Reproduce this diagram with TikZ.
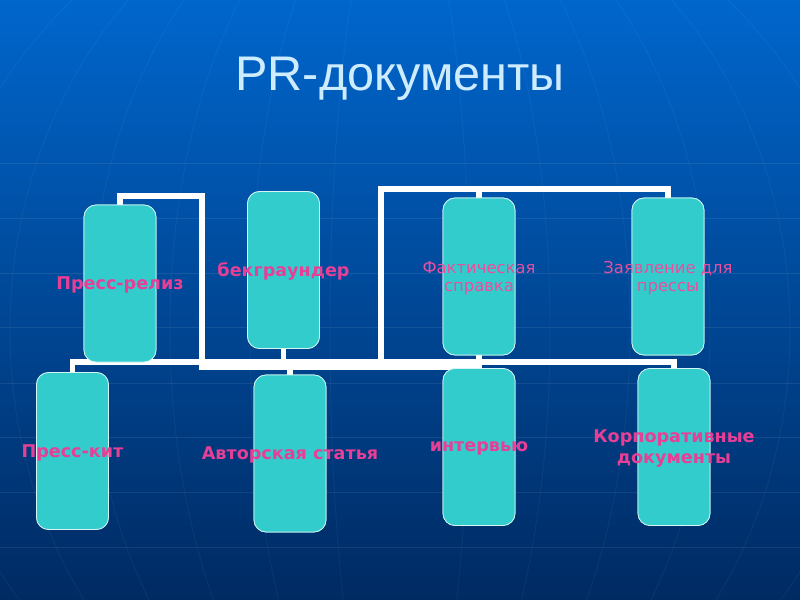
\documentclass[tikz,border=0pt]{standalone}
\usepackage{fontspec}
\setmainfont{DejaVu Sans}
\newfontfamily\titlefont{Liberation Sans}
\definecolor{bgtop}{RGB}{0,102,204}
\definecolor{bgbot}{RGB}{0,42,98}
\definecolor{boxfill}{RGB}{51,204,204}
\definecolor{pinktext}{RGB}{232,62,150}
\definecolor{titlecol}{RGB}{206,236,255}
\begin{document}
\begin{tikzpicture}[x=0.03cm,y=-0.03cm,
  docbox/.style={draw=white!80!boxfill, line width=0.6pt, fill=boxfill,
    rounded corners=0.36cm, minimum width=2.16cm, minimum height=4.71cm, inner sep=0pt},
  lbl/.style={text=pinktext, font=\bfseries\fontsize{15}{18}\selectfont, align=center, inner sep=0pt},
  lbllight/.style={text=pinktext!92!white, font=\fontsize{14}{16}\selectfont, align=center, inner sep=0pt},
  conn/.style={draw=white, line width=0.16cm},
  gridline/.style={draw=white, opacity=0.08, line width=0.8pt},
  meridian/.style={draw=white, opacity=0.045, line width=0.8pt},
  titlestyle/.style={font=\titlefont\fontsize{41.5}{48}\selectfont, inner sep=0pt}]
\useasboundingbox (0,0) rectangle (800,600);
% background
\shade[top color=bgtop, bottom color=bgbot] (0,0) rectangle (800,600);
\begin{scope}
\clip (0,0) rectangle (800,600);
\foreach \yy in {163,218,273,327,383,437,492,547} \draw[gridline] (0,\yy) -- (800,\yy);
\foreach \rr in {70,150,230,310,390,470} \draw[meridian] (400,330) ellipse [x radius=\rr, y radius=460];
\end{scope}
% title
\node[titlestyle, text=titlecol] (title) at (400,79) {PR-документы};
% junction coordinates
\coordinate (jA) at (202,196);
\coordinate (jB) at (202,367.5);
\coordinate (jC) at (381,367.5);
\coordinate (jD) at (381,189);
% boxes (positions)
\node[docbox] (pr) at (120,283.5) {};
\node[docbox] (bg) at (283.5,270) {};
\node[docbox] (fs) at (479,276.5) {};
\node[docbox] (zd) at (668,276.5) {};
\node[docbox] (pk) at (72.5,451) {};
\node[docbox] (as) at (290,453.5) {};
\node[docbox] (iv) at (479,447) {};
\node[docbox] (kd) at (674,447) {};
% connectors
\draw[conn] (pr.north) |- (jA) -- (jB) -| (as.north);
\draw[conn] (jB) -| (iv.north);
\draw[conn] (pk.north) -- ++(0,-10) coordinate (jE) -| (kd.north);
\draw[conn] (bg.south) -- (bg.south |- jE);
\draw[conn] (fs.south) -- (iv.north);
\draw[conn] (jC) -- (jD) -| (zd.north);
\draw[conn] (fs.north) -- (fs.north |- jD);
% boxes again on top of the connectors
\node[docbox] (pr2) at (pr) {};
\node[docbox] (bg2) at (bg) {};
\node[docbox] (fs2) at (fs) {};
\node[docbox] (zd2) at (zd) {};
\node[docbox] (pk2) at (pk) {};
\node[docbox] (as2) at (as) {};
\node[docbox] (iv2) at (iv) {};
\node[docbox] (kd2) at (kd) {};
% labels
\node[lbl] (prl) at ([yshift=-0.05cm]pr) {Пресс-релиз};
\node[lbl] (bgl) at ([yshift=-0.05cm]bg) {бекграундер};
\node[lbllight] (fsl) at ([yshift=-0.05cm]fs) {Фактическая\\справка};
\node[lbllight] (zdl) at ([yshift=-0.05cm]zd) {Заявление для\\прессы};
\node[lbl] (pkl) at ([yshift=-0.05cm]pk) {Пресс-кит};
\node[lbl] (asl) at ([yshift=-0.05cm]as) {Авторская статья};
\node[lbl] (ivl) at ([yshift=-0.05cm]iv) {интервью};
\node[lbl] (kdl) at ([yshift=-0.05cm]kd) {Корпоративные\\документы};
\end{tikzpicture}
\end{document}
